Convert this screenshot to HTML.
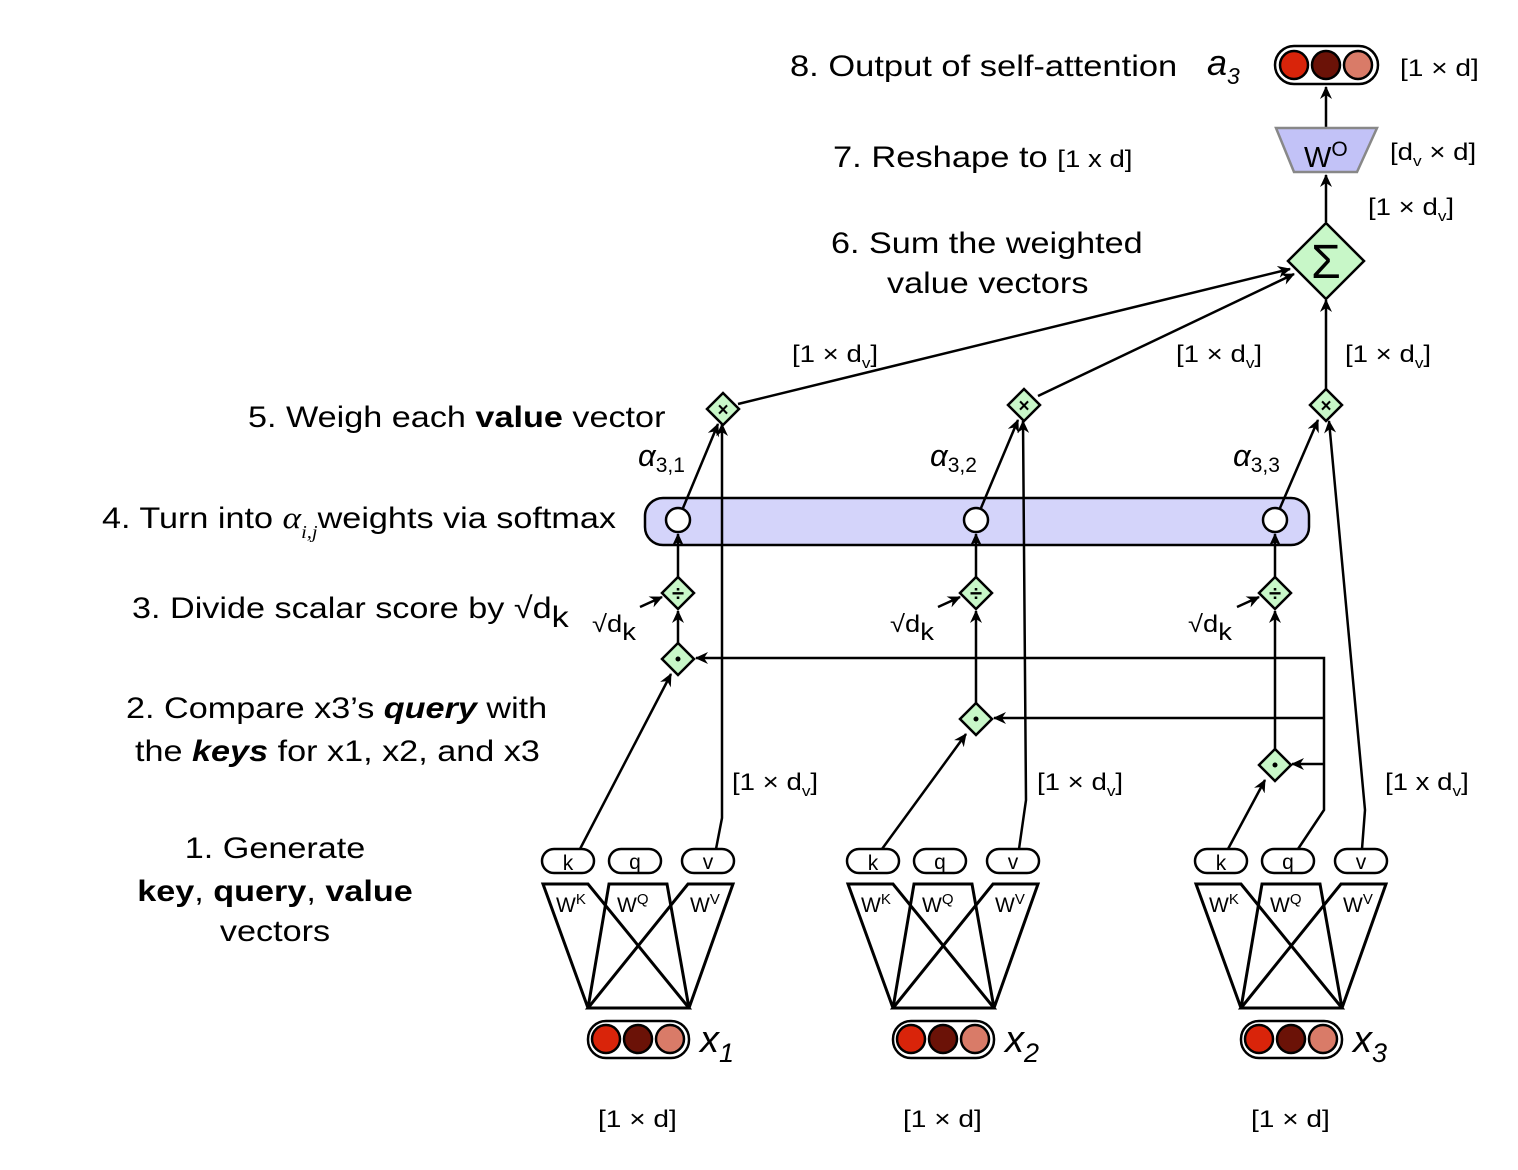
<!DOCTYPE html>
<html><head><meta charset="utf-8"><style>
html,body{margin:0;padding:0;background:#fff}
svg{display:block}
text{font-family:"Liberation Sans",Arial,sans-serif;fill:#000}
.m{font-size:30px}
.s{font-size:24px}
.w{font-size:21px}
</style></head><body>
<svg width="1518" height="1170" viewBox="0 0 1518 1170" xmlns="http://www.w3.org/2000/svg">
<defs>
<marker id="a" markerWidth="14" markerHeight="12" refX="12" refY="6" orient="auto" markerUnits="userSpaceOnUse">
<path d="M0,0 L13,6 L0,12 L4,6 Z" fill="#000"/>
</marker>
<g id="blk">
  <rect x="542" y="849" width="52" height="24" rx="12" fill="#fff" stroke="#000" stroke-width="2.5"/>
  <rect x="609" y="849" width="52" height="24" rx="12" fill="#fff" stroke="#000" stroke-width="2.5"/>
  <rect x="682" y="849" width="52" height="24" rx="12" fill="#fff" stroke="#000" stroke-width="2.5"/>
  <text x="568" y="870" class="w" text-anchor="middle">k</text>
  <text x="635" y="869" class="w" text-anchor="middle">q</text>
  <text x="708" y="869" class="w" text-anchor="middle">v</text>
  <g stroke="#000" stroke-width="3" fill="none" stroke-linejoin="miter">
    <path d="M543,884 H588 L689,1008 H588 Z"/>
    <path d="M609,884 H667 L689,1008 H588 Z"/>
    <path d="M688,884 H733 L689,1008 H588 Z"/>
  </g>
  <text x="556" y="912" font-size="21">W<tspan dy="-8" font-size="15">K</tspan></text>
  <text x="617" y="912" font-size="21">W<tspan dy="-8" font-size="15">Q</tspan></text>
  <text x="690" y="912" font-size="21">W<tspan dy="-8" font-size="15">V</tspan></text>
  <rect x="588" y="1021" width="101" height="37" rx="18" fill="#fff" stroke="#000" stroke-width="2.5"/>
  <circle cx="606" cy="1039" r="14" fill="#d9240a" stroke="#000" stroke-width="2.5"/>
  <circle cx="638" cy="1039" r="14" fill="#6b1207" stroke="#000" stroke-width="2.5"/>
  <circle cx="670" cy="1039" r="14" fill="#d97b68" stroke="#000" stroke-width="2.5"/>
  <text transform="translate(598,1127) scale(1.17,1)" class="s">[1 × d]</text>
</g>
</defs>

<use href="#blk"/>
<use href="#blk" transform="translate(305,0)"/>
<use href="#blk" transform="translate(653,0)"/>
<text x="700" y="1052" font-size="38" font-style="italic">x<tspan dy="10" font-size="27">1</tspan></text>
<text x="1005" y="1052" font-size="38" font-style="italic">x<tspan dy="10" font-size="27">2</tspan></text>
<text x="1353" y="1052" font-size="38" font-style="italic">x<tspan dy="10" font-size="27">3</tspan></text>

<rect x="645" y="498" width="664" height="47" rx="18" fill="#d4d4fa" stroke="#000" stroke-width="2.5"/>

<g stroke="#000" stroke-width="2.5" fill="none">
  <polyline points="1298,849 1324,810 1324,658 696,658" marker-end="url(#a)"/>
  <polyline points="1324,718 994,718" marker-end="url(#a)"/>
  <polyline points="1324,764 1292,764" marker-end="url(#a)"/>
  <line x1="580" y1="849" x2="671" y2="674" marker-end="url(#a)"/>
  <line x1="882" y1="849" x2="966" y2="734" marker-end="url(#a)"/>
  <line x1="1228" y1="849" x2="1265" y2="780" marker-end="url(#a)"/>
  <polyline points="716,849 722,818 722,424" marker-end="url(#a)"/>
  <polyline points="1019,849 1026,800 1023,421" marker-end="url(#a)"/>
  <polyline points="1362,849 1365,810 1329,421" marker-end="url(#a)"/>
  <line x1="678" y1="643" x2="678" y2="611" marker-end="url(#a)"/>
  <line x1="976" y1="703" x2="976" y2="611" marker-end="url(#a)"/>
  <line x1="1275" y1="749" x2="1275" y2="611" marker-end="url(#a)"/>
  <line x1="678" y1="577" x2="678" y2="534" marker-end="url(#a)"/>
  <line x1="976" y1="577" x2="976" y2="534" marker-end="url(#a)"/>
  <line x1="1275" y1="577" x2="1275" y2="534" marker-end="url(#a)"/>
  <line x1="640" y1="607" x2="662" y2="597" marker-end="url(#a)"/>
  <line x1="938" y1="607" x2="960" y2="597" marker-end="url(#a)"/>
  <line x1="1237" y1="607" x2="1259" y2="597" marker-end="url(#a)"/>
  <line x1="683" y1="508" x2="718" y2="424" marker-end="url(#a)"/>
  <line x1="981" y1="508" x2="1018" y2="420" marker-end="url(#a)"/>
  <line x1="1280" y1="508" x2="1318" y2="420" marker-end="url(#a)"/>
  <line x1="738" y1="404" x2="1290" y2="269" marker-end="url(#a)"/>
  <line x1="1038" y1="396" x2="1294" y2="274" marker-end="url(#a)"/>
  <line x1="1326" y1="389" x2="1326" y2="300" marker-end="url(#a)"/>
  <line x1="1326" y1="222" x2="1326" y2="175" marker-end="url(#a)"/>
  <line x1="1326" y1="128" x2="1326" y2="87" marker-end="url(#a)"/>
</g>

<g fill="#fff" stroke="#000" stroke-width="2.5">
  <circle cx="678" cy="520" r="12"/><circle cx="976" cy="520" r="12"/><circle cx="1275" cy="520" r="12"/>
</g>
<g fill="#c8f7c8" stroke="#000" stroke-width="2.5">
  <path d="M678,643 L694,659 L678,675 L662,659 Z"/>
  <path d="M976,703 L992,719 L976,735 L960,719 Z"/>
  <path d="M1275,749 L1291,765 L1275,781 L1259,765 Z"/>
  <path d="M678,577 L694,593 L678,609 L662,593 Z"/>
  <path d="M976,577 L992,593 L976,609 L960,593 Z"/>
  <path d="M1275,577 L1291,593 L1275,609 L1259,593 Z"/>
  <path d="M723,393 L739,409 L723,425 L707,409 Z"/>
  <path d="M1024,389 L1040,405 L1024,421 L1008,405 Z"/>
  <path d="M1326,389 L1342,405 L1326,421 L1310,405 Z"/>
  <path d="M1326,223 L1364,261 L1326,299 L1288,261 Z"/>
</g>
<g fill="#000">
  <circle cx="678" cy="659" r="2.5"/><circle cx="976" cy="719" r="2.5"/><circle cx="1275" cy="765" r="2.5"/>
</g>
<g font-size="22" text-anchor="middle" font-weight="bold">
  <text x="678" y="601">÷</text><text x="976" y="601">÷</text><text x="1275" y="601">÷</text>
  <text x="723" y="416" font-size="19">×</text><text x="1024" y="412" font-size="19">×</text><text x="1326" y="412" font-size="19">×</text>
</g>
<text x="1326" y="278" font-size="48" text-anchor="middle" font-family="DejaVu Serif,serif">Σ</text>

<path d="M1276,128 H1377 L1357,172 H1294 Z" fill="#c2c2f7" stroke="#888" stroke-width="2.5"/>
<text x="1304" y="167" font-size="29">W<tspan dy="-11" font-size="21">O</tspan></text>
<rect x="1275" y="46" width="103" height="38" rx="19" fill="#fff" stroke="#000" stroke-width="2.5"/>
<circle cx="1294" cy="65" r="14" fill="#d9240a" stroke="#000" stroke-width="2.5"/>
<circle cx="1326" cy="65" r="14" fill="#6b1207" stroke="#000" stroke-width="2.5"/>
<circle cx="1358" cy="65" r="14" fill="#d97b68" stroke="#000" stroke-width="2.5"/>

<text transform="translate(790,76) scale(1.15,1)" class="m">8. Output of self-attention</text>
<text x="1207" y="75" font-size="36" font-style="italic">a<tspan dy="9" font-size="23">3</tspan></text>
<text transform="translate(1400,76) scale(1.17,1)" class="s">[1 × d]</text>
<text transform="translate(833,167) scale(1.15,1)" class="m">7. Reshape to <tspan class="s">[1 x d]</tspan></text>
<text transform="translate(1390,160) scale(1.15,1)" class="s">[d<tspan dy="6" font-size="15">v</tspan><tspan dy="-6"> × d]</tspan></text>
<text transform="translate(1368,215) scale(1.15,1)" class="s">[1 × d<tspan dy="6" font-size="15">v</tspan><tspan dy="-6">]</tspan></text>
<text transform="translate(831,253) scale(1.14,1)" class="m">6. Sum the weighted</text>
<text transform="translate(887,293) scale(1.14,1)" class="m">value vectors</text>
<text transform="translate(792,362) scale(1.15,1)" class="s">[1 × d<tspan dy="6" font-size="15">v</tspan><tspan dy="-6">]</tspan></text>
<text transform="translate(1176,362) scale(1.15,1)" class="s">[1 × d<tspan dy="6" font-size="15">v</tspan><tspan dy="-6">]</tspan></text>
<text transform="translate(1345,362) scale(1.15,1)" class="s">[1 × d<tspan dy="6" font-size="15">v</tspan><tspan dy="-6">]</tspan></text>
<text transform="translate(248,427) scale(1.14,1)" class="m">5. Weigh each <tspan font-weight="bold">value</tspan> vector</text>
<text x="638" y="466" font-size="31" font-family="Liberation Serif,serif" font-style="italic">α<tspan dy="6" font-size="21" font-style="normal">3,1</tspan></text>
<text x="930" y="466" font-size="31" font-family="Liberation Serif,serif" font-style="italic">α<tspan dy="6" font-size="21" font-style="normal">3,2</tspan></text>
<text x="1233" y="466" font-size="31" font-family="Liberation Serif,serif" font-style="italic">α<tspan dy="6" font-size="21" font-style="normal">3,3</tspan></text>
<text transform="translate(102,528) scale(1.14,1)" class="m">4. Turn into <tspan font-family="Liberation Serif,serif" font-style="italic" font-size="31">α</tspan><tspan dy="10" font-size="18" font-family="Liberation Serif,serif" font-style="italic">i,j</tspan><tspan dy="-10">weights via softmax</tspan></text>
<text transform="translate(132,618) scale(1.14,1)" class="m">3. Divide scalar score by √d<tspan dy="9">k</tspan></text>
<text transform="translate(592,632) scale(1.14,1)" class="s">√d<tspan dy="8">k</tspan></text>
<text transform="translate(890,632) scale(1.14,1)" class="s">√d<tspan dy="8">k</tspan></text>
<text transform="translate(1188,632) scale(1.14,1)" class="s">√d<tspan dy="8">k</tspan></text>
<text transform="translate(126,718) scale(1.14,1)" class="m">2. Compare x3’s <tspan font-weight="bold" font-style="italic">query</tspan> with</text>
<text transform="translate(135,761) scale(1.14,1)" class="m">the <tspan font-weight="bold" font-style="italic">keys</tspan> for x1, x2, and x3</text>
<text transform="translate(732,790) scale(1.15,1)" class="s">[1 × d<tspan dy="6" font-size="15">v</tspan><tspan dy="-6">]</tspan></text>
<text transform="translate(1037,790) scale(1.15,1)" class="s">[1 × d<tspan dy="6" font-size="15">v</tspan><tspan dy="-6">]</tspan></text>
<text transform="translate(1385,790) scale(1.15,1)" class="s">[1 x d<tspan dy="6" font-size="15">v</tspan><tspan dy="-6">]</tspan></text>
<text transform="translate(275,858) scale(1.14,1)" class="m" text-anchor="middle">1. Generate</text>
<text transform="translate(275,901) scale(1.14,1)" class="m" text-anchor="middle"><tspan font-weight="bold">key</tspan>, <tspan font-weight="bold">query</tspan>, <tspan font-weight="bold">value</tspan></text>
<text transform="translate(275,941) scale(1.14,1)" class="m" text-anchor="middle">vectors</text>
</svg>
</body></html>
